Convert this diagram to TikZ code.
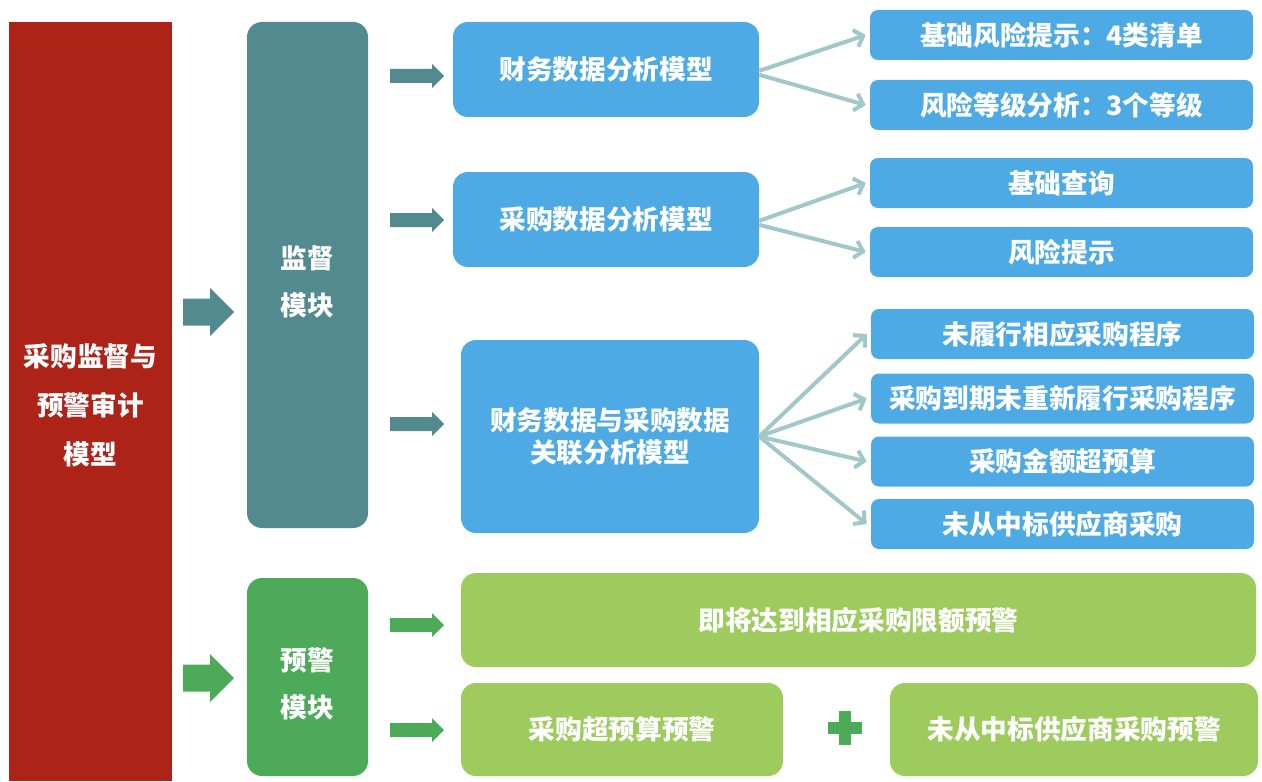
\documentclass[tikz,border=0pt]{standalone}
\usepackage{fontspec}
\newfontfamily\cjk{Noto Sans CJK SC}
\usetikzlibrary{arrows.meta}
\definecolor{cred}{HTML}{AE2318}
\definecolor{cteal}{HTML}{528A8F}
\definecolor{cblue}{HTML}{4DAAE5}
\definecolor{clgreen}{HTML}{9ECB5E}
\definecolor{cdgreen}{HTML}{4DAA58}
\definecolor{cline}{HTML}{A2C7C8}
\def\px{0.75pt}
\newcommand{\bkarrow}[7]{% color, x, y, length, headlen, shaft half, head half
  \fill[#1] (#2,#3-#6) -- (#2+#4-#5,#3-#6) -- (#2+#4-#5,#3-#7) -- (#2+#4,#3) --
    (#2+#4-#5,#3+#7) -- (#2+#4-#5,#3+#6) -- (#2,#3+#6) -- cycle;}
\tikzset{
  base/.style={inner sep=0pt, text=white, align=center,
    font=\cjk\bfseries\fontsize{20}{24}\selectfont},
  txt/.style={inner sep=0pt, text=white, align=center},
  redbox/.style={base, fill=cred},
  tealbox/.style={base, fill=cteal, rounded corners=15*\px},
  greenbox/.style={base, fill=cdgreen, rounded corners=15*\px},
  bluebox/.style={base, fill=cblue, rounded corners=15*\px},
  rbox/.style={base, fill=cblue, rounded corners=8*\px, minimum width=383*\px, minimum height=50*\px},
  lgbox/.style={base, fill=clgreen, rounded corners=15*\px, minimum height=93*\px},
  conn/.style={cline, line width=3pt, -{Straight Barb[length=6pt,width=13pt]}}
}
\begin{document}
\begin{tikzpicture}[x=0.75pt,y=-0.75pt]
\useasboundingbox (0,0) rectangle (1262,781);
% left red
\node[redbox, minimum width=163*\px, minimum height=759*\px,
  label={[txt, yshift=-3pt, font=\cjk\bfseries\fontsize{20}{37}\selectfont]center:{采购监督与\\预警审计\\模型}}] (main) at (90.5,401.5) {};
% module boxes
\node[tealbox, minimum width=121*\px, minimum height=506*\px,
  label={[txt, yshift=-5pt, font=\cjk\bfseries\fontsize{20}{35}\selectfont]center:{监督\\模块}}] (jd) at (307.5,275) {};
\node[greenbox, minimum width=121*\px, minimum height=198*\px,
  label={[txt, yshift=-5pt, font=\cjk\bfseries\fontsize{20}{35}\selectfont]center:{预警\\模块}}] (yj) at (307.5,677) {};
% big arrows
\bkarrow{cteal}{183}{312}{51}{24}{13.5}{24}
\bkarrow{cdgreen}{183}{678}{51}{24}{13.5}{24}
% small arrows
\bkarrow{cteal}{390}{76}{54}{12}{7}{12}
\bkarrow{cteal}{390}{220}{54}{12}{7}{12}
\bkarrow{cteal}{390}{424}{54}{12}{7}{12}
\bkarrow{cdgreen}{390}{625}{54}{12}{7}{12}
\bkarrow{cdgreen}{390}{730}{54}{12}{7}{12}
% blue boxes
\node[bluebox, minimum width=306*\px, minimum height=95*\px] (b1) at (606,69.5) {财务数据分析模型};
\node[bluebox, minimum width=306*\px, minimum height=95*\px] (b2) at (606,219.5) {采购数据分析模型};
\node[bluebox, minimum width=298*\px, minimum height=193*\px] (b3) at (610,436.5) {财务数据与采购数据\\关联分析模型};
% right boxes
\node[rbox] (r1) at (1061.5,35) {基础风险提示：4类清单};
\node[rbox] (r2) at (1061.5,105) {风险等级分析：3个等级};
\node[rbox] (r3) at (1061.5,183) {基础查询};
\node[rbox] (r4) at (1061.5,252) {风险提示};
\node[rbox] (r5) at (1062.5,334) {未履行相应采购程序};
\node[rbox] (r6) at (1062.5,398.5) {采购到期未重新履行采购程序};
\node[rbox] (r7) at (1062.5,461.5) {采购金额超预算};
\node[rbox] (r8) at (1062.5,524) {未从中标供应商采购};
% connectors
\draw[conn] ([yshift=-1pt]b1.east) -- ([xshift=-3pt]r1.west);
\draw[conn] ([yshift=-4pt]b1.east) -- ([xshift=-3pt]r2.west);
\draw[conn] ([yshift=-1pt]b2.east) -- ([xshift=-3pt]r3.west);
\draw[conn] ([yshift=-4pt]b2.east) -- ([xshift=-3pt]r4.west);
\foreach \r in {r5,r6,r7,r8}{
  \draw[conn] (b3.east) -- ([xshift=-3pt]\r.west);
}
% green boxes
\node[lgbox, minimum width=795*\px, minimum height=94*\px] (g1) at (858.5,620) {即将达到相应采购限额预警};
\node[lgbox, minimum width=322*\px] (g2) at (622,729.5) {采购超预算预警};
\node[lgbox, minimum width=368*\px] (g3) at (1074,729.5) {未从中标供应商采购预警};
% plus
\fill[cdgreen] (828,722) rectangle (862,734);
\fill[cdgreen] (839,711) rectangle (851,745);
\end{tikzpicture}
\end{document}
